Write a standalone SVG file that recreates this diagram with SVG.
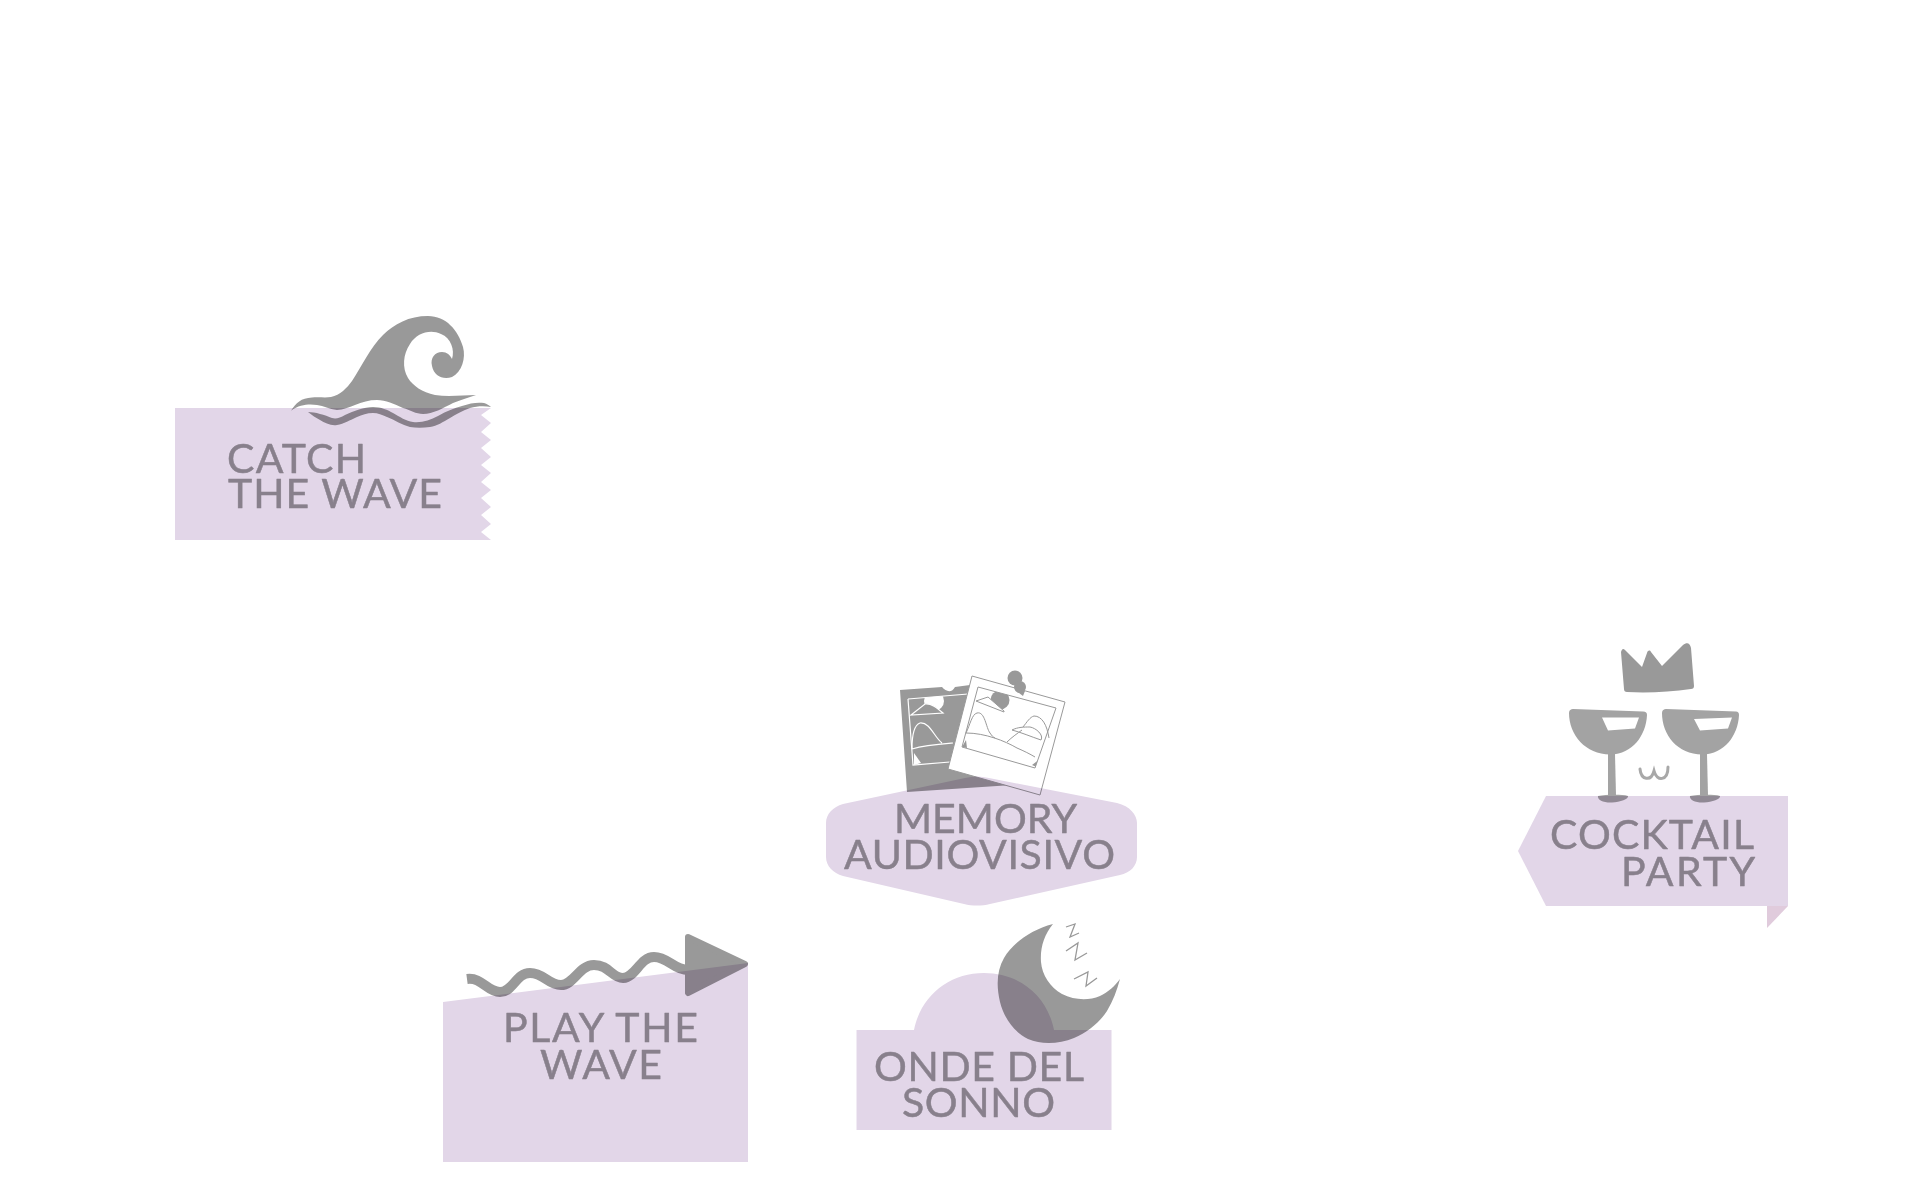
<svg xmlns="http://www.w3.org/2000/svg" width="1929" height="1200" viewBox="0 0 1929 1200">
<style>
.l{fill:#e2d6e8;mix-blend-mode:multiply}
.g{fill:#999}
.t{font-family:"Lato","Noto Sans",sans-serif;font-size:41px;fill:#88808c;stroke:#88808c;stroke-width:.5;stroke-linejoin:round}
.w{fill:none;stroke:#fff;stroke-width:1.2}
.d{fill:none;stroke:#999;stroke-width:1}
</style>
<defs>
<clipPath id="photo-frame"><path d="M908 699L968 694L970 760L913 765Z"/></clipPath>
<clipPath id="polaroid-frame"><path d="M978 687L1056 708L1035 768L962 747Z"/></clipPath>
</defs>
<rect width="1929" height="1200" fill="#fff"/>
<g id="catch-the-wave">
<path class="g" d="M291 410.700C296 403 301 398 312 397.500C320 397 326 398 331 397C340 395 347 388 352 381C362 366 370 348 383 335C394 324 409 316 428 316C446 316 458 330 463 347C466 358 462 372 452 377C443 380 434 376 432 366C430 358 435 352 442 352C447 352 450 355 452 359C455 350 451 338 441 334C430 329 417 333 410 344C403 354 402 368 408 378C413 386 422 392 435 395C449 397 463 395 476 395C468 398 460 400 453 403C443 408 433 414 423 414C416 414 410 410 403 408C394 404 386 400 377 400C369 400 362 402 355 405C349 407 343 410 337 410C329 409 324 406 317 405C310 404 300 404 291 410.700Z"/>
<path class="g" d="M308 412C315 412 325 415 332 418C336 419 340 418 345 415C354 411 364 407 373 407C381 407 388 410 393 413C400 417 406 421 413 422C422 423 430 420 438 416C447 411 454 408 462 406C470 403 478 402 484 403C487 404 489 405 491 407C485 406 477 406 470 408C462 411 456 414 450 418C443 422 437 426 430 427C423 428 416 428 410 427C402 425 395 420 387 417C382 415 378 413 373 413C367 413 362 415 357 417C350 420 344 424 337 425C331 426 325 423 320 420C316 418 312 415 308 412Z"/>
<path class="l" d="M175 408H491L481 415L491 423L481 432L491 440L481 448L491 457L481 465L491 473L481 482L491 490L481 498L491 507L481 515L491 524L481 532L491 540H175Z"/>
<text class="t" x="227" y="473" textLength="139">CATCH</text>
<text class="t" x="228" y="508" textLength="214">THE WAVE</text>
</g>
<g id="memory-audiovisivo">
<path class="g" d="M900 690L942 687C946 692 952 693 955 687L970 685L1012 785L907 792Z"/>
<circle cx="934" cy="701" r="10" fill="#fff" clip-path="url(#photo-frame)"/>
<path class="w" d="M908 699L968 694M908 699L913 765L950 762"/>
<path class="g" stroke="#fff" stroke-width="1.200" d="M911 715L925 704C931 703 937 708 943 713Z"/>
<path class="w" d="M912 749C912 735 914 725 920 723C930 722 934 737 942 743M912 749C925 745 940 744 953 743"/>
<path d="M914 753L921 763L914 765Z" fill="#fff"/>
<path fill="#fff" stroke="#999" d="M972 676L1065 702L1040 795L948 769Z"/>
<g clip-path="url(#polaroid-frame)">
<circle class="g" cx="1000" cy="700" r="9.500"/>
<path fill="#fff" stroke="#999" d="M976 701L988 697L1004 711L1004 712Z"/>
<path class="g" d="M966 740L962 747L967 748ZM1040 759L1032 765L1039 768Z"/>
</g>
<path class="d" d="M978 687L1056 708L1035 768L962 747Z"/>
<circle class="g" cx="1015" cy="678" r="7.500"/><circle class="g" cx="1020" cy="687" r="6"/>
<path class="g" d="M1015 690L1025 691L1023 696Z"/>
<path class="d" d="M966 733C970 725 972 714 977 713C985 711 986 728 990 733C992 736 993 737 995 738M966 733C985 733 1005 741 1017 748C1024 751 1030 754 1035 757M1007 742C1012 737 1018 733 1022 730M1012 730C1018 727 1024 727 1030 727C1036 728 1044 735 1041 740C1032 737 1020 732 1012 730M1023 727C1027 722 1030 717 1034 716C1042 716 1047 725 1049 738"/>
<path class="l" d="M843 804L965 778C973 776 981 776 989 778L1117 803C1130 806 1137 815 1137 823V857C1137 866 1130 873 1120 875L990 904C982 906 972 906 964 904L843 876C833 873 826 866 826 857V823C826 814 833 807 843 804Z"/>
<text class="t" x="894" y="833" textLength="183">MEMORY</text>
<text class="t" x="844" y="869" textLength="271">AUDIOVISIVO</text>
</g>
<g id="cocktail-party">
<path class="g" d="M1621 652C1622 649 1623 648 1625 650L1642 667L1647 653C1648 650 1650 650 1651 652L1662 666L1683 645C1687 642 1690 643 1691 648L1694 686C1694 688 1693 689 1691 689C1670 692 1648 693 1627 692C1625 692 1624 691 1624 689Z"/>
<g id="glasses" fill="#a3a3a3">
<path fill-rule="evenodd" d="M1573 709L1643 711.500C1646 711.500 1647 713 1647 715C1646 736 1632 754 1611 754.500C1586 755 1569 735 1569 713C1569 710 1571 709 1573 709ZM1602 717.500L1639 717.500L1635 728.500L1608 730.500Z"/>
<path d="M1608 754H1615L1616 795H1608Z"/>
<path d="M1598 796C1605 795 1620 794 1628 796C1629 799 1620 802 1612 802.500C1604 803 1597 800 1598 796Z"/>
<path fill-rule="evenodd" d="M1666 709L1736 711.500C1738 711.500 1739 713 1739 715C1738 736 1724 754 1703 754.500C1678 755 1662 735 1662 713C1662 710 1664 709 1666 709ZM1694 719L1732 717.500L1728 728.500L1700 730.500Z"/>
<path d="M1700 754H1707L1708 795H1700Z"/>
<path d="M1690 796C1697 795 1712 794 1720 796C1721 799 1712 802 1704 802.500C1696 803 1689 800 1690 796Z"/>
</g>
<path d="M1640 769C1641 780 1651 782 1654 771C1657 782 1668 781 1668 767" fill="none" stroke="#a8a8a8" stroke-width="3" stroke-linecap="round"/>
<path class="l" d="M1546 796H1788V906H1546L1518 851Z"/>
<path fill="#e0cbdc" d="M1767 906H1788L1767 928Z"/>
<text class="t" x="1550" y="849" textLength="204">COCKTAIL</text>
<text class="t" x="1621" y="886" textLength="134">PARTY</text>
</g>
<g id="play-the-wave">
<path d="M467 979C482 977 487 992 500 992C513 992 516 973 530 973C544 973 548 985 561 985C574 985 579 965 594 965C609 965 612 978 623 978C636 977 640 957 654 957C668 957 674 970 688 970" fill="none" stroke="#999" stroke-width="10"/>
<path class="g" stroke="#999" stroke-width="6" stroke-linejoin="round" d="M688 937L745 964L688 993Z"/>
<path class="l" d="M443 1002L748 963V1162H443Z"/>
<text class="t" x="503" y="1042" textLength="195">PLAY THE</text>
<text class="t" x="540" y="1079" textLength="122">WAVE</text>
</g>
<g id="onde-del-sonno">
<path class="g" d="M1053 924C1030 930 1012 944 1004 958C997 970 996 985 1000 1002C1004 1018 1014 1032 1028 1039C1042 1045 1059 1044 1074 1038C1088 1032 1100 1022 1107 1011C1113 1001 1117 990 1120 979C1115 986 1108 992 1100 996C1088 1001 1074 1000 1062 994C1050 987 1042 975 1041 962C1040 948 1044 935 1053 924Z"/>
<path d="M1066 927L1075 924L1070 937L1079 933M1066 951L1078 943L1075 960L1087 953M1074 979L1088 972L1086 986L1097 978" fill="none" stroke="#999" stroke-width="1.300"/>
<path class="l" d="M856.500 1030H914C921 995 950 973 984 973C1019 973 1047 995 1054 1030H1111.500V1130H856.500Z"/>
<text class="t" x="874" y="1081" textLength="210">ONDE DEL</text>
<text class="t" x="902" y="1117" textLength="153">SONNO</text>
</g>
</svg>
